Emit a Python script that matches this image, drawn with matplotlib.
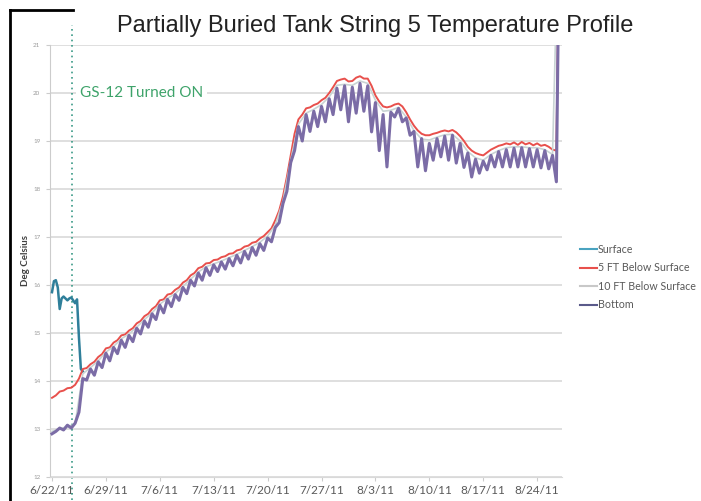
import matplotlib
matplotlib.use('Agg')
import matplotlib.pyplot as plt
from matplotlib.lines import Line2D
import numpy as np

# days since 6/22/11, half-day readings
days = np.arange(0, 66.01, 0.5)
days_daily = np.arange(0, 66.01, 1.0)
surface_days = np.arange(0, 4.01, 0.25)

surface = [15.85, 16.08, 16.10, 15.95, 15.50, 15.72, 15.76, 15.72, 15.68,
           15.72, 15.74, 15.68, 15.62, 15.70, 14.90, 14.25, 14.20]

ft5 = [13.65, 13.70, 13.78, 13.80, 13.85, 13.86, 13.92, 14.05, 14.25, 14.27,
       14.35, 14.40, 14.50, 14.56, 14.68, 14.70, 14.80, 14.85, 14.95, 14.97,
       15.05, 15.10, 15.20, 15.25, 15.35, 15.40, 15.50, 15.56, 15.68, 15.70,
       15.80, 15.82, 15.90, 15.95, 16.05, 16.10, 16.20, 16.25, 16.35, 16.38,
       16.45, 16.46, 16.52, 16.53, 16.58, 16.60, 16.65, 16.66, 16.72, 16.74,
       16.80, 16.82, 16.88, 16.90, 16.97, 17.02, 17.10, 17.18, 17.35, 17.55,
       17.85, 18.25, 18.70, 19.15, 19.45, 19.55, 19.68, 19.70, 19.75, 19.78,
       19.85, 19.90, 20.00, 20.12, 20.25, 20.28, 20.30, 20.24, 20.25, 20.32,
       20.35, 20.30, 20.30, 20.15, 19.95, 19.82, 19.72, 19.70, 19.72, 19.76,
       19.78, 19.72, 19.60, 19.45, 19.32, 19.22, 19.15, 19.12, 19.12, 19.15,
       19.17, 19.20, 19.22, 19.20, 19.23, 19.18, 19.10, 19.00, 18.88, 18.80,
       18.75, 18.72, 18.70, 18.76, 18.82, 18.86, 18.90, 18.92, 18.95, 18.93,
       18.97, 18.92, 18.98, 18.93, 18.96, 18.91, 18.95, 18.90, 18.92, 18.88,
       18.82, 18.80, 25.0]

ft10 = [12.95, 13.00, 13.05, 13.10, 14.15, 14.28, 14.42, 14.60, 14.72, 14.88,
        14.98, 15.12, 15.28, 15.42, 15.60, 15.72, 15.82, 15.97, 16.12, 16.27,
        16.38, 16.44, 16.50, 16.57, 16.64, 16.72, 16.80, 16.89, 17.02, 17.25,
        17.75, 18.60, 19.35, 19.58, 19.66, 19.76, 19.92, 20.16, 20.18, 20.16,
        20.25, 20.20, 19.85, 19.62, 19.64, 19.70, 19.50, 19.22, 19.04, 19.02,
        19.08, 19.13, 19.14, 19.00, 18.78, 18.65, 18.60, 18.72, 18.80, 18.86,
        18.88, 18.88, 18.86, 18.86, 18.82, 18.72, 25.0]

bottom = [12.90, 12.95, 13.02, 12.98, 13.08, 13.02, 13.12, 13.35, 14.05, 14.02,
          14.25, 14.12, 14.40, 14.28, 14.58, 14.42, 14.70, 14.57, 14.85, 14.70,
          14.95, 14.82, 15.10, 14.98, 15.25, 15.12, 15.40, 15.28, 15.58, 15.42,
          15.70, 15.55, 15.80, 15.68, 15.95, 15.82, 16.10, 15.98, 16.25, 16.10,
          16.36, 16.20, 16.42, 16.28, 16.48, 16.33, 16.55, 16.40, 16.62, 16.46,
          16.70, 16.54, 16.78, 16.62, 16.86, 16.72, 16.98, 16.90, 17.20, 17.30,
          17.70, 17.95, 18.55, 18.80, 19.30, 19.00, 19.55, 19.20, 19.62, 19.30,
          19.72, 19.40, 19.88, 19.55, 20.10, 19.65, 20.15, 19.40, 20.12, 19.58,
          20.20, 19.62, 20.15, 19.19, 19.80, 18.80, 19.55, 18.46, 19.60, 19.50,
          19.68, 19.40, 19.48, 19.12, 19.20, 18.46, 19.05, 18.38, 18.95, 18.60,
          19.05, 18.67, 19.10, 18.60, 19.12, 18.54, 18.95, 18.45, 18.75, 18.25,
          18.62, 18.33, 18.58, 18.40, 18.70, 18.46, 18.78, 18.46, 18.82, 18.46,
          18.85, 18.46, 18.86, 18.46, 18.84, 18.46, 18.82, 18.44, 18.80, 18.42,
          18.70, 18.15, 25.0]

week_ticks = [0, 7, 14, 21, 28, 35, 42, 49, 56, 63]
week_labels = ['6/22/11', '6/29/11', '7/6/11', '7/13/11', '7/20/11',
               '7/27/11', '8/3/11', '8/10/11', '8/17/11', '8/24/11']
turn_on_day = 2.6

fig = plt.figure(figsize=(7.01, 5.01), dpi=100)
ax = fig.add_axes([50 / 701, 24 / 501, 512 / 701, 432 / 501])

ax.plot(surface_days, surface, color='#2f7f9a', lw=1.8, zorder=3)
ax.plot(days, ft5, color='#e8504c', lw=1.4, zorder=3)
ax.plot(days_daily, ft10, color='#c9d4d4', lw=1.2, zorder=3)
ax.plot(days, bottom, color='#7b6ca6', lw=2.2, zorder=3)

ax.set_xlim(-0.26, 66.23)
ax.set_ylim(12, 21)
ax.set_yticks(range(12, 22))
ax.set_xticks(week_ticks)
ax.set_xticklabels(week_labels)
ax.grid(axis='y', color='#d9d9d9', lw=1.2, zorder=0)
ax.set_axisbelow(True)
for side in ['top', 'right']:
    ax.spines[side].set_visible(False)
ax.spines['left'].set_color('#cccccc')
ax.spines['bottom'].set_color('#d9d9d9')
ax.tick_params(axis='y', colors='#cccccc', labelcolor='#9a9a9a', labelsize=4.5,
               length=3, pad=4)
ax.tick_params(axis='x', colors='#cccccc', labelcolor='#595959', labelsize=8.5,
               length=3, pad=3)
for lab in ax.get_xticklabels() + ax.get_yticklabels():
    lab.set_family('Lato')

ax.axvline(turn_on_day, ymin=-0.053, ymax=1.046, clip_on=False, color='#3a9a86',
           lw=1.2, ls=(0, (1, 2.2)), zorder=2)
ax.text(3.64, 20, 'GS-12 Turned ON', color='#3ea36a', fontsize=11, family='Lato',
        ha='left', va='center', zorder=4,
        bbox=dict(facecolor='white', edgecolor='none', pad=3))

ax.set_ylabel('Deg Celsius', fontsize=7, fontweight='bold', color='#404040',
              family='Lato', labelpad=2)

fig.text(375 / 701, 1 - 26 / 501, 'Partially Buried Tank String 5 Temperature Profile',
         ha='center', va='center', fontsize=17, color='#222222', family='Liberation Sans')

handles = [Line2D([], [], color='#4aa3c0', lw=1.5),
           Line2D([], [], color='#e8504c', lw=1.5),
           Line2D([], [], color='#c8c8c8', lw=1.5),
           Line2D([], [], color='#5a5a8a', lw=1.5)]
fig.legend(handles, ['Surface', '5 FT Below Surface', '10 FT Below Surface', 'Bottom'],
           loc='upper left', bbox_to_anchor=(580 / 701, 1 - 244 / 501),
           frameon=False, labelcolor='#595959', handlelength=1.55,
           handletextpad=0.1, borderpad=0, borderaxespad=0, labelspacing=0.7,
           prop={'family': 'Lato', 'size': 7.7})

# black frame remnants at the top-left
fig.add_artist(Line2D([10 / 701, 10 / 701], [1 - 10 / 501, 0], color='black', lw=2,
                      transform=fig.transFigure))
fig.add_artist(Line2D([10 / 701, 73 / 701], [1 - 10 / 501, 1 - 10 / 501], color='black',
                      lw=2, transform=fig.transFigure))

fig.savefig('out.png', dpi=100)
